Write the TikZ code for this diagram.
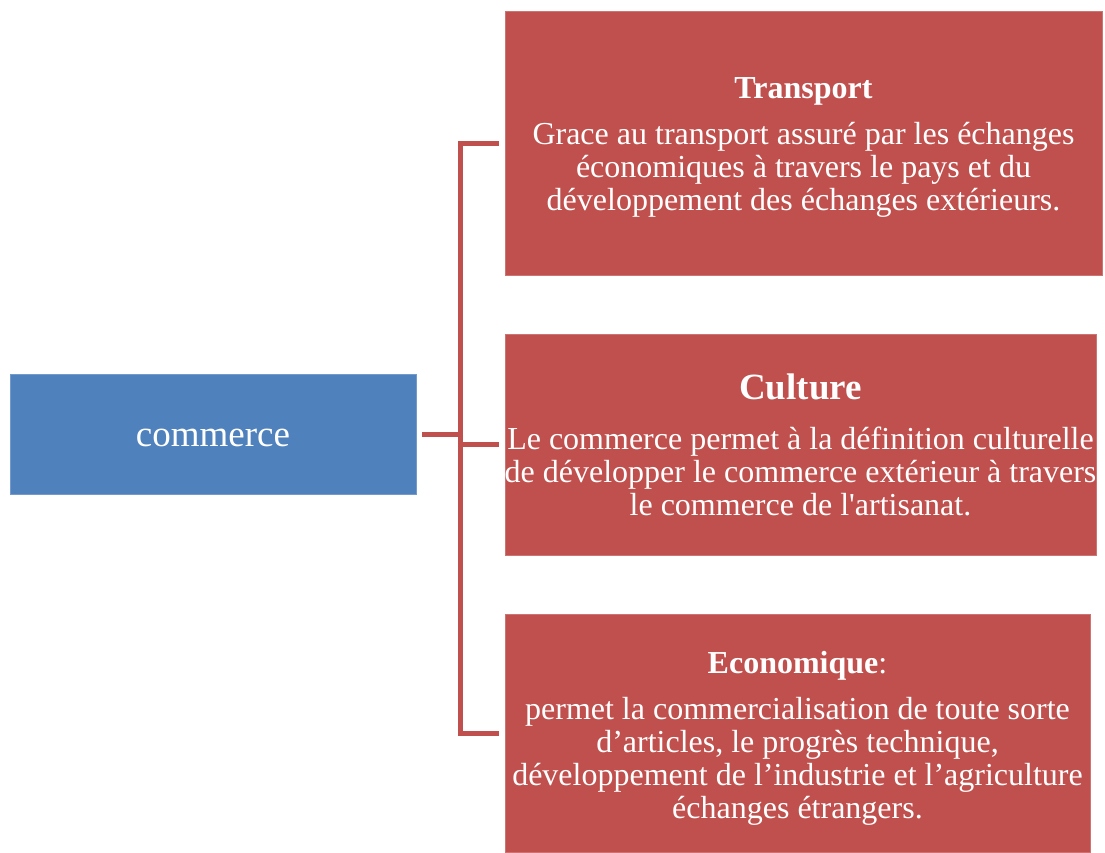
\documentclass[tikz,border=0pt]{standalone}
\usepackage{fontspec}
\setmainfont{Liberation Serif}
\definecolor{boxred}{HTML}{C0504D}
\definecolor{boxblue}{HTML}{4F81BD}
\begin{document}
\begin{tikzpicture}[x=1pt,y=-1pt,
  redbox/.style={fill=boxred, draw=boxred!80!white, line width=0.8pt, inner sep=0pt},
  bluebox/.style={fill=boxblue, draw=boxblue!80!white, line width=0.8pt, inner sep=0pt},
  boxtext/.style={text=white, align=center, inner sep=0pt},
  conn/.style={draw=boxred, line width=5pt, line join=miter},
  body/.style={font=\fontsize{32}{33}\selectfont}]
\useasboundingbox (0,0) rectangle (1105,852);
% boxes
\node[bluebox, minimum width=406pt, minimum height=120pt] (com) at (213,434) {};
\node[boxtext] (comt) at ([yshift=-4pt]com.center)
  {\fontsize{37}{40}\selectfont commerce};
\node[redbox, minimum width=597pt, minimum height=264pt] (t) at (803.5,143) {};
\node[boxtext, body] (tt) at ([yshift=-4pt]t.center)
  {\textbf{Transport}\\[13pt]
   Grace au transport assuré par les échanges\\
   économiques à travers le pays et du\\
   développement des échanges extérieurs.};
\node[redbox, minimum width=591pt, minimum height=221pt] (c) at (800.5,444.5) {};
\node[boxtext, body] (ct) at (c.center)
  {{\fontsize{37}{40}\selectfont\textbf{Culture}}\\[17pt]
   Le commerce permet à la définition culturelle\\
   de développer le commerce extérieur à travers\\
   le commerce de l\textquotesingle artisanat.};
\node[redbox, minimum width=585pt, minimum height=238pt] (e) at (797.5,733) {};
\node[boxtext, body] (et) at ([yshift=-5pt]e.center)
  {\textbf{Economique}:\\[13pt]
   permet la commercialisation de toute sorte\\
   d’articles, le progrès technique,\\
   développement de l’industrie et l’agriculture\\
   échanges étrangers.};
% connectors
\coordinate (bus) at (460.5,0);
\draw[conn, shorten <=6pt] (com.east) -- (com.east -| bus);
\draw[conn, shorten <=6pt, shorten >=6pt] (t.west) -- (t.west -| bus) -- (e.west -| bus) -- (e.west);
\draw[conn, shorten >=6pt] (c.west -| bus) -- (c.west);
\end{tikzpicture}
\end{document}
